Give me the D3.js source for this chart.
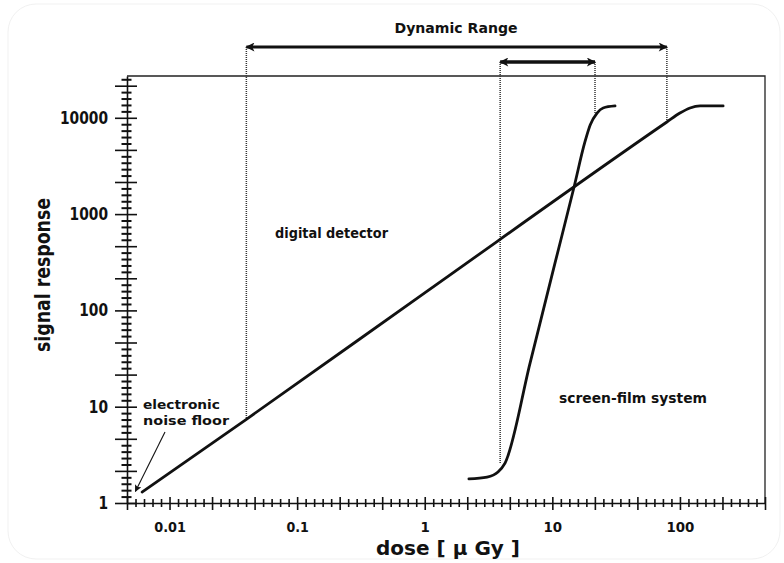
<!DOCTYPE html>
<html>
<head>
<meta charset="utf-8">
<script src="https://cdn.jsdelivr.net/npm/d3@7/dist/d3.min.js"></script>
<style>
  html, body { margin: 0; padding: 0; background: #fff; }
  svg { display: block; }
  .bold { font-family: "DejaVu Sans", "Noto Sans", sans-serif; font-weight: bold; }
</style>
</head>
<body>
<svg id="chart" width="784" height="563"></svg>
<script>
// Digital detector: linear response on log-log axes, saturating at the top
const digitalDose   = [0.0061, 0.04, 1, 79, 100, 120, 144, 218];
const digitalSignal = [1.3, 7.4, 152, 9040, 11200, 12650, 13270, 13270];

// Screen-film system: characteristic S-shaped curve
const filmDose   = [2.22, 3.08, 3.75, 4.26, 6.69, 10.5, 14.8, 18.0, 19.8, 22.4, 25.0, 31.0];
const filmSignal = [1.78, 1.86, 2.10, 2.60, 28.4, 311, 1911, 5610, 8420, 11200, 12650, 13270];

// Dynamic range limits (dose) and the signal where each marker line ends
const digitalRangeDose   = [0.04, 79];
const digitalRangeSignal = [7.4, 9040];
const filmRangeDose      = [3.9, 21.6];
const filmRangeSignal    = [2.6, 11200];

// Noise floor pointer target (dose, signal)
const noiseFloorPoint = [0.0054, 1.32];

// Tick labels
const xTickValues = [0.01, 0.1, 1, 10, 100];
const xTickLabels = ["0.01", "0.1", "1", "10", "100"];
const yTickValues = [1, 10, 100, 1000, 10000];
const yTickLabels = ["1", "10", "100", "1000", "10000"];

const svg = d3.select("#chart");
const W = 784, H = 563;
const margin = { top: 76, right: 19, bottom: 60, left: 127 };

const x = d3.scaleLog()
  .domain([Math.pow(10, -7 / 3), Math.pow(10, 8 / 3)])
  .range([margin.left, W - margin.right]);
const y = d3.scaleLog()
  .domain([1, Math.pow(10, 4.434)])
  .range([H - margin.bottom, margin.top]);

// faint rounded outline of the figure
svg.append("rect")
  .attr("x", 8).attr("y", 4).attr("width", W - 12).attr("height", H - 8)
  .attr("rx", 28).attr("fill", "none").attr("stroke", "#f1f1f1").attr("stroke-width", 1);

const ink = "#111";

// narrow bold lettering: fix the drawn width of a text element
function fitWidth(sel, w) {
  sel.attr("textLength", w).attr("lengthAdjust", "spacingAndGlyphs");
}
const digitWidth = (s, dw, pw) => s.split("").reduce((a, c) => a + (c === "." ? pw : dw), 0);

// tick positions: 15 steps per decade, long tick every 5th step
function logSteps(lo, hi) {
  const out = [];
  for (let k = Math.ceil(Math.log10(lo) * 15 - 1e-6); k <= Math.floor(Math.log10(hi) * 15 + 1e-6); k++) out.push(k);
  return out;
}
const xSteps = logSteps(...x.domain());
const ySteps = logSteps(...y.domain());
const xLong = xSteps.filter(k => k % 5 === 0).map(k => Math.pow(10, k / 15));
const xShort = xSteps.filter(k => k % 5 !== 0).map(k => Math.pow(10, k / 15));
const yLong = ySteps.filter(k => k % 5 === 0).map(k => Math.pow(10, k / 15));
const yShort = ySteps.filter(k => k % 5 !== 0).map(k => Math.pow(10, k / 15));

function labelFor(values, labels) {
  return d => {
    const i = values.findIndex(v => Math.abs(Math.log10(v) - Math.log10(d)) < 1e-6);
    return i >= 0 ? labels[i] : "";
  };
}

// frame: top and right edges
svg.append("path")
  .attr("d", `M${x.range()[0]},${y.range()[1]}H${x.range()[1]}V${y.range()[0]}`)
  .attr("fill", "none").attr("stroke", "#222").attr("stroke-width", 1.3);

// y axis
const y0 = margin.left;
const gyShort = svg.append("g").attr("transform", `translate(${y0},0)`)
  .call(d3.axisLeft(y).tickValues(yShort).tickFormat("").tickSizeOuter(0));
gyShort.select(".domain").remove();
gyShort.selectAll(".tick line").attr("x1", 4.5).attr("x2", -5.5).attr("stroke", ink).attr("stroke-width", 2);

const gy = svg.append("g").attr("transform", `translate(${y0},0)`)
  .call(d3.axisLeft(y).tickValues(yLong).tickFormat(labelFor(yTickValues, yTickLabels)).tickSizeOuter(0));
gy.select(".domain").attr("stroke", ink).attr("stroke-width", 1.6);
gy.selectAll(".tick line").attr("x1", 10).attr("x2", -12).attr("stroke", ink).attr("stroke-width", 1.6);
gy.selectAll(".tick text").attr("x", -19).attr("class", "bold")
  .style("font-size", "17px").attr("fill", ink)
  .filter(function () { return this.textContent !== ""; })
  .each(function () { fitWidth(d3.select(this), digitWidth(this.textContent, 9.6, 4)); });

// x axis
const x0 = H - margin.bottom;
const gxShort = svg.append("g").attr("transform", `translate(0,${x0})`)
  .call(d3.axisBottom(x).tickValues(xShort).tickFormat("").tickSizeOuter(0));
gxShort.select(".domain").remove();
gxShort.selectAll(".tick line").attr("y1", -4).attr("y2", 4).attr("stroke", ink).attr("stroke-width", 1.6);

const gx = svg.append("g").attr("transform", `translate(0,${x0})`)
  .call(d3.axisBottom(x).tickValues(xLong).tickFormat(labelFor(xTickValues, xTickLabels)).tickSizeOuter(0));
gx.select(".domain").attr("stroke", ink).attr("stroke-width", 1.6);
gx.selectAll(".tick line").attr("y1", -6).attr("y2", 7).attr("stroke", ink).attr("stroke-width", 1.6);
gx.selectAll(".tick text").attr("y", 19).attr("class", "bold")
  .style("font-size", "14px").attr("fill", ink)
  .filter(function () { return this.textContent !== ""; })
  .each(function () { fitWidth(d3.select(this), digitWidth(this.textContent, 9.3, 3.8)); });

// axis titles
svg.append("text").attr("class", "bold")
  .attr("x", 448).attr("y", 555).attr("text-anchor", "middle")
  .style("font-size", "20px").attr("fill", ink)
  .text("dose [ μ Gy ]")
  .call(fitWidth, 144);
svg.append("text").attr("class", "bold")
  .attr("transform", "translate(50,275) rotate(-90)").attr("text-anchor", "middle")
  .style("font-size", "22px").attr("fill", ink)
  .text("signal response")
  .call(fitWidth, 154);

// dotted range markers
const dotted = [
  { d: digitalRangeDose[0], s: digitalRangeSignal[0], top: 47 },
  { d: digitalRangeDose[1], s: digitalRangeSignal[1], top: 47 },
  { d: filmRangeDose[0], s: filmRangeSignal[0], top: 62 },
  { d: filmRangeDose[1], s: filmRangeSignal[1], top: 62 }
];
svg.append("g").selectAll("line").data(dotted).join("line")
  .attr("x1", d => x(d.d)).attr("x2", d => x(d.d))
  .attr("y1", d => d.top).attr("y2", d => y(d.s))
  .attr("stroke", "#333").attr("stroke-width", 1.5).attr("stroke-dasharray", "1,1");

// curves
const line = d3.line().x(d => x(d[0])).y(d => y(d[1])).curve(d3.curveMonotoneX);
svg.append("path")
  .datum(d3.zip(digitalDose, digitalSignal))
  .attr("d", line).attr("fill", "none").attr("stroke", ink).attr("stroke-width", 2.8)
  .attr("stroke-linecap", "round");
svg.append("path")
  .datum(d3.zip(filmDose, filmSignal))
  .attr("d", line).attr("fill", "none").attr("stroke", ink).attr("stroke-width", 2.8)
  .attr("stroke-linecap", "round");

// arrowheads
const defs = svg.append("defs");
function marker(id, orient) {
  defs.append("marker").attr("id", id)
    .attr("viewBox", "0 -5 10 10").attr("refX", 9).attr("refY", 0)
    .attr("markerUnits", "userSpaceOnUse")
    .attr("markerWidth", 15).attr("markerHeight", 9).attr("orient", orient)
    .append("path").attr("d", "M0,-5L10,0L0,5L2.5,0Z").attr("fill", ink);
}
marker("arrowEnd", "auto");
marker("arrowStart", "auto-start-reverse");
defs.append("marker").attr("id", "arrowSmall")
  .attr("viewBox", "0 -5 10 10").attr("refX", 9).attr("refY", 0)
  .attr("markerUnits", "userSpaceOnUse")
  .attr("markerWidth", 9).attr("markerHeight", 7).attr("orient", "auto")
  .append("path").attr("d", "M0,-5L10,0L0,5L2,0Z").attr("fill", ink);

// dynamic range arrows
svg.append("line")
  .attr("x1", x(digitalRangeDose[0])).attr("x2", x(digitalRangeDose[1]))
  .attr("y1", 47).attr("y2", 47)
  .attr("stroke", ink).attr("stroke-width", 3)
  .attr("marker-start", "url(#arrowStart)").attr("marker-end", "url(#arrowEnd)");
svg.append("line")
  .attr("x1", x(filmRangeDose[0])).attr("x2", x(filmRangeDose[1]))
  .attr("y1", 62).attr("y2", 62)
  .attr("stroke", ink).attr("stroke-width", 3.4)
  .attr("marker-start", "url(#arrowStart)").attr("marker-end", "url(#arrowEnd)");

svg.append("text").attr("class", "bold")
  .attr("x", 456).attr("y", 33).attr("text-anchor", "middle")
  .style("font-size", "14px").attr("fill", ink)
  .text("Dynamic Range")
  .call(fitWidth, 123);

// curve labels
svg.append("text").attr("class", "bold")
  .attr("x", 275).attr("y", 238)
  .style("font-size", "13.5px").attr("fill", ink)
  .text("digital detector")
  .call(fitWidth, 113);
svg.append("text").attr("class", "bold")
  .attr("x", 559).attr("y", 403)
  .style("font-size", "13.5px").attr("fill", ink)
  .text("screen-film system")
  .call(fitWidth, 148);

// noise floor annotation
svg.append("text").attr("class", "bold")
  .attr("x", 143).attr("y", 409)
  .style("font-size", "13px").attr("fill", ink)
  .text("electronic")
  .call(fitWidth, 77);
svg.append("text").attr("class", "bold")
  .attr("x", 143).attr("y", 425)
  .style("font-size", "13px").attr("fill", ink)
  .text("noise floor")
  .call(fitWidth, 86);
svg.append("line")
  .attr("x1", 165).attr("y1", 432)
  .attr("x2", x(noiseFloorPoint[0])).attr("y2", y(noiseFloorPoint[1]))
  .attr("stroke", ink).attr("stroke-width", 1.1)
  .attr("marker-end", "url(#arrowSmall)");
</script>
</body>
</html>
